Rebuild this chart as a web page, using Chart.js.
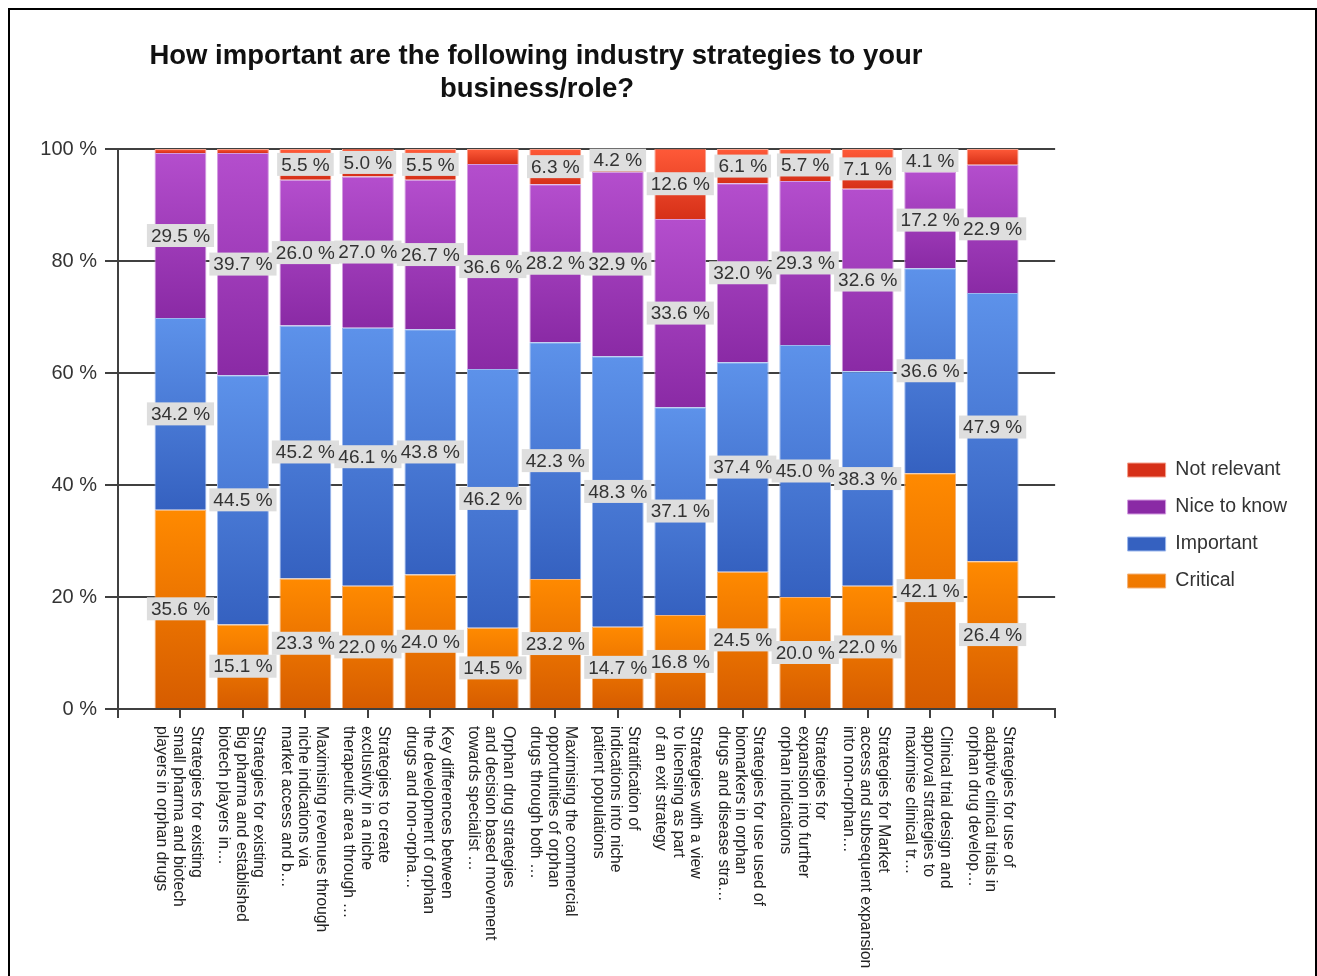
<!DOCTYPE html>
<html>
<head>
<meta charset="utf-8">
<script src="https://cdn.jsdelivr.net/npm/chart.js@4.4.1/dist/chart.umd.min.js"></script>
<style>
body{margin:0;background:#fff;overflow:hidden}
#frame{position:absolute;left:8px;top:8px;width:1305px;height:1000px;border:2px solid #000}
#wrap{position:absolute;left:0;top:0;width:1317px;height:976px}
</style>
</head>
<body>
<div id="frame"></div>
<div id="wrap"><canvas id="chart"></canvas></div>
<script>

const titleLines = ["How important are the following industry strategies to your", "business/role?"]

// each category label is kept as the wrapped lines shown under the axis
const categories = [
  ["Strategies for existing", "small pharma and biotech", "players in orphan drugs"],
  ["Strategies for existing", "Big pharma and established", "biotech players in…"],
  ["Maximising revenues through", "niche indications via", "market access and b…"],
  ["Strategies to create", "exclusivity in a niche", "therapeutic area through …"],
  ["Key differences between", "the development of orphan", "drugs and non-orpha…"],
  ["Orphan drug strategies", "and decision based movement", "towards specialist …"],
  ["Maximising the commercial", "opportunities of orphan", "drugs through both …"],
  ["Stratification of", "indications into niche", "patient populations"],
  ["Strategies with a view", "to licensing as part", "of an exit strategy"],
  ["Strategies for use used of", "biomarkers in orphan", "drugs and disease stra…"],
  ["Strategies for", "expansion into further", "orphan indications"],
  ["Strategies for Market", "access and subsequent expansion", "into non-orphan…"],
  ["Clinical trial design and", "approval strategies to", "maximise clinical tr…"],
  ["Strategies for use of", "adaptive clinical trials in", "orphan drug develop…"]
]

const critical    = [35.6, 15.1, 23.3, 22.0, 24.0, 14.5, 23.2, 14.7, 16.8, 24.5, 20.0, 22.0, 42.1, 26.4]
const important   = [34.2, 44.5, 45.2, 46.1, 43.8, 46.2, 42.3, 48.3, 37.1, 37.4, 45.0, 38.3, 36.6, 47.9]
const niceToKnow  = [29.5, 39.7, 26.0, 27.0, 26.7, 36.6, 28.2, 32.9, 33.6, 32.0, 29.3, 32.6, 17.2, 22.9]
const notRelevant = [0.7, 0.7, 5.5, 5.0, 5.5, 2.7, 6.3, 4.2, 12.6, 6.1, 5.7, 7.1, 4.1, 2.8]

const yMax = 100
const yStep = 20

const FONT = '"Liberation Sans", Arial, sans-serif'

function toPoints(arr){
  return arr.map((v, i) => ({x: i + 1, y: v}))
}

// vertical gradient per segment, lighter at the top
function segFill(top, bottom){
  return function(ctx){
    const chart = ctx.chart
    const y = chart.scales.y
    if (ctx.type !== 'data' || !y || !chart.chartArea) return bottom
    let start = 0
    for (let d = 0; d < ctx.datasetIndex; d++) start += chart.data.datasets[d].data[ctx.dataIndex].y
    const end = start + ctx.raw.y
    const g = chart.ctx.createLinearGradient(0, y.getPixelForValue(end), 0, y.getPixelForValue(start))
    g.addColorStop(0, top)
    g.addColorStop(1, bottom)
    return g
  }
}

const titlePlugin = {
  id: 'titlePlugin',
  afterDraw(chart){
    const c = chart.ctx
    c.save()
    c.font = 'bold 27.5px ' + FONT
    c.fillStyle = '#111'
    c.textAlign = 'center'
    c.textBaseline = 'middle'
    c.fillText(titleLines[0], 536, 56)
    c.fillText(titleLines[1], 537, 89)
    c.restore()
  }
}

const segLabels = {
  id: 'segLabels',
  afterDatasetsDraw(chart){
    const c = chart.ctx
    c.save()
    c.font = '19px ' + FONT
    c.textAlign = 'center'
    c.textBaseline = 'middle'
    chart.data.datasets.forEach((ds, di) => {
      const meta = chart.getDatasetMeta(di)
      meta.data.forEach((bar, i) => {
        const v = ds.data[i].y
        if (v < 3) return
        const txt = v.toFixed(1) + ' %'
        const cy = (bar.y + bar.base) / 2
        const w = c.measureText(txt).width + 8
        c.fillStyle = '#dedede'
        c.fillRect(bar.x - w / 2, cy - 11.5, w, 23)
        c.fillStyle = '#333'
        c.fillText(txt, bar.x, cy + 1)
      })
    })
    c.restore()
  }
}

// category labels turned clockwise, read top to bottom
const xLabels = {
  id: 'xLabels',
  afterDraw(chart){
    const c = chart.ctx
    const xs = chart.scales.x
    c.save()
    c.font = '15.8px ' + FONT
    c.fillStyle = '#222'
    c.textAlign = 'left'
    c.textBaseline = 'middle'
    categories.forEach((lines, i) => {
      const x = xs.getPixelForValue(i + 1) - 2
      c.save()
      c.translate(x, 726)
      c.rotate(Math.PI / 2)
      lines.forEach((t, j) => c.fillText(t, 0, (j - (lines.length - 1) / 2) * 17.5))
      c.restore()
    })
    c.restore()
  }
}

const ctx = document.getElementById('chart').getContext('2d')
const myChart = new Chart(ctx, {
  type: 'bar',
  data: {
    datasets: [
      {label: 'Critical', data: toPoints(critical), backgroundColor: segFill('#ff8a00', '#d65c00'), borderColor: '#f3b27a', borderWidth: 1},
      {label: 'Important', data: toPoints(important), backgroundColor: segFill('#5d92ea', '#3561c0'), borderColor: '#9bb8ee', borderWidth: 1},
      {label: 'Nice to know', data: toPoints(niceToKnow), backgroundColor: segFill('#b44ecd', '#8a2aa5'), borderColor: '#d39be0', borderWidth: 1},
      {label: 'Not relevant', data: toPoints(notRelevant), backgroundColor: segFill('#ff5a38', '#d63018'), borderColor: '#f5a08c', borderWidth: 1}
    ]
  },
  options: {
    responsive: true,
    maintainAspectRatio: false,
    animation: false,
    devicePixelRatio: 1,
    barPercentage: 0.83,
    categoryPercentage: 1,
    layout: {padding: {left: 8, top: 149, right: 20, bottom: 74}},
    plugins: {
      title: {display: false},
      tooltip: {enabled: false},
      legend: {
        position: 'right',
        reverse: true,
        labels: {
          boxWidth: 38,
          boxHeight: 14,
          padding: 17.5,
          color: '#333',
          font: {size: 19.5, family: FONT}
        }
      }
    },
    scales: {
      x: {
        type: 'linear',
        min: 0,
        max: 15,
        offset: false,
        stacked: true,
        ticks: {display: false, stepSize: 1},
        grid: {display: true, offset: false, drawOnChartArea: false, drawTicks: true, tickLength: 9, color: '#404040', lineWidth: 2},
        border: {display: true, color: '#404040', width: 2},
        afterFit: s => { s.height = 193 }
      },
      y: {
        min: 0,
        max: yMax,
        stacked: true,
        ticks: {stepSize: yStep, padding: 8, color: '#333', font: {size: 20, family: FONT}, callback: v => v + ' %'},
        grid: {color: '#404040', lineWidth: 2, tickLength: 13},
        border: {display: true, color: '#404040', width: 2},
        afterFit: s => { s.width = 110 }
      },
      gap: {
        type: 'linear',
        position: 'right',
        display: true,
        grid: {display: false},
        border: {display: false},
        ticks: {display: false},
        afterFit: s => { s.width = 55 }
      }
    }
  },
  plugins: [segLabels, xLabels, titlePlugin]
})
</script>
</body>
</html>
